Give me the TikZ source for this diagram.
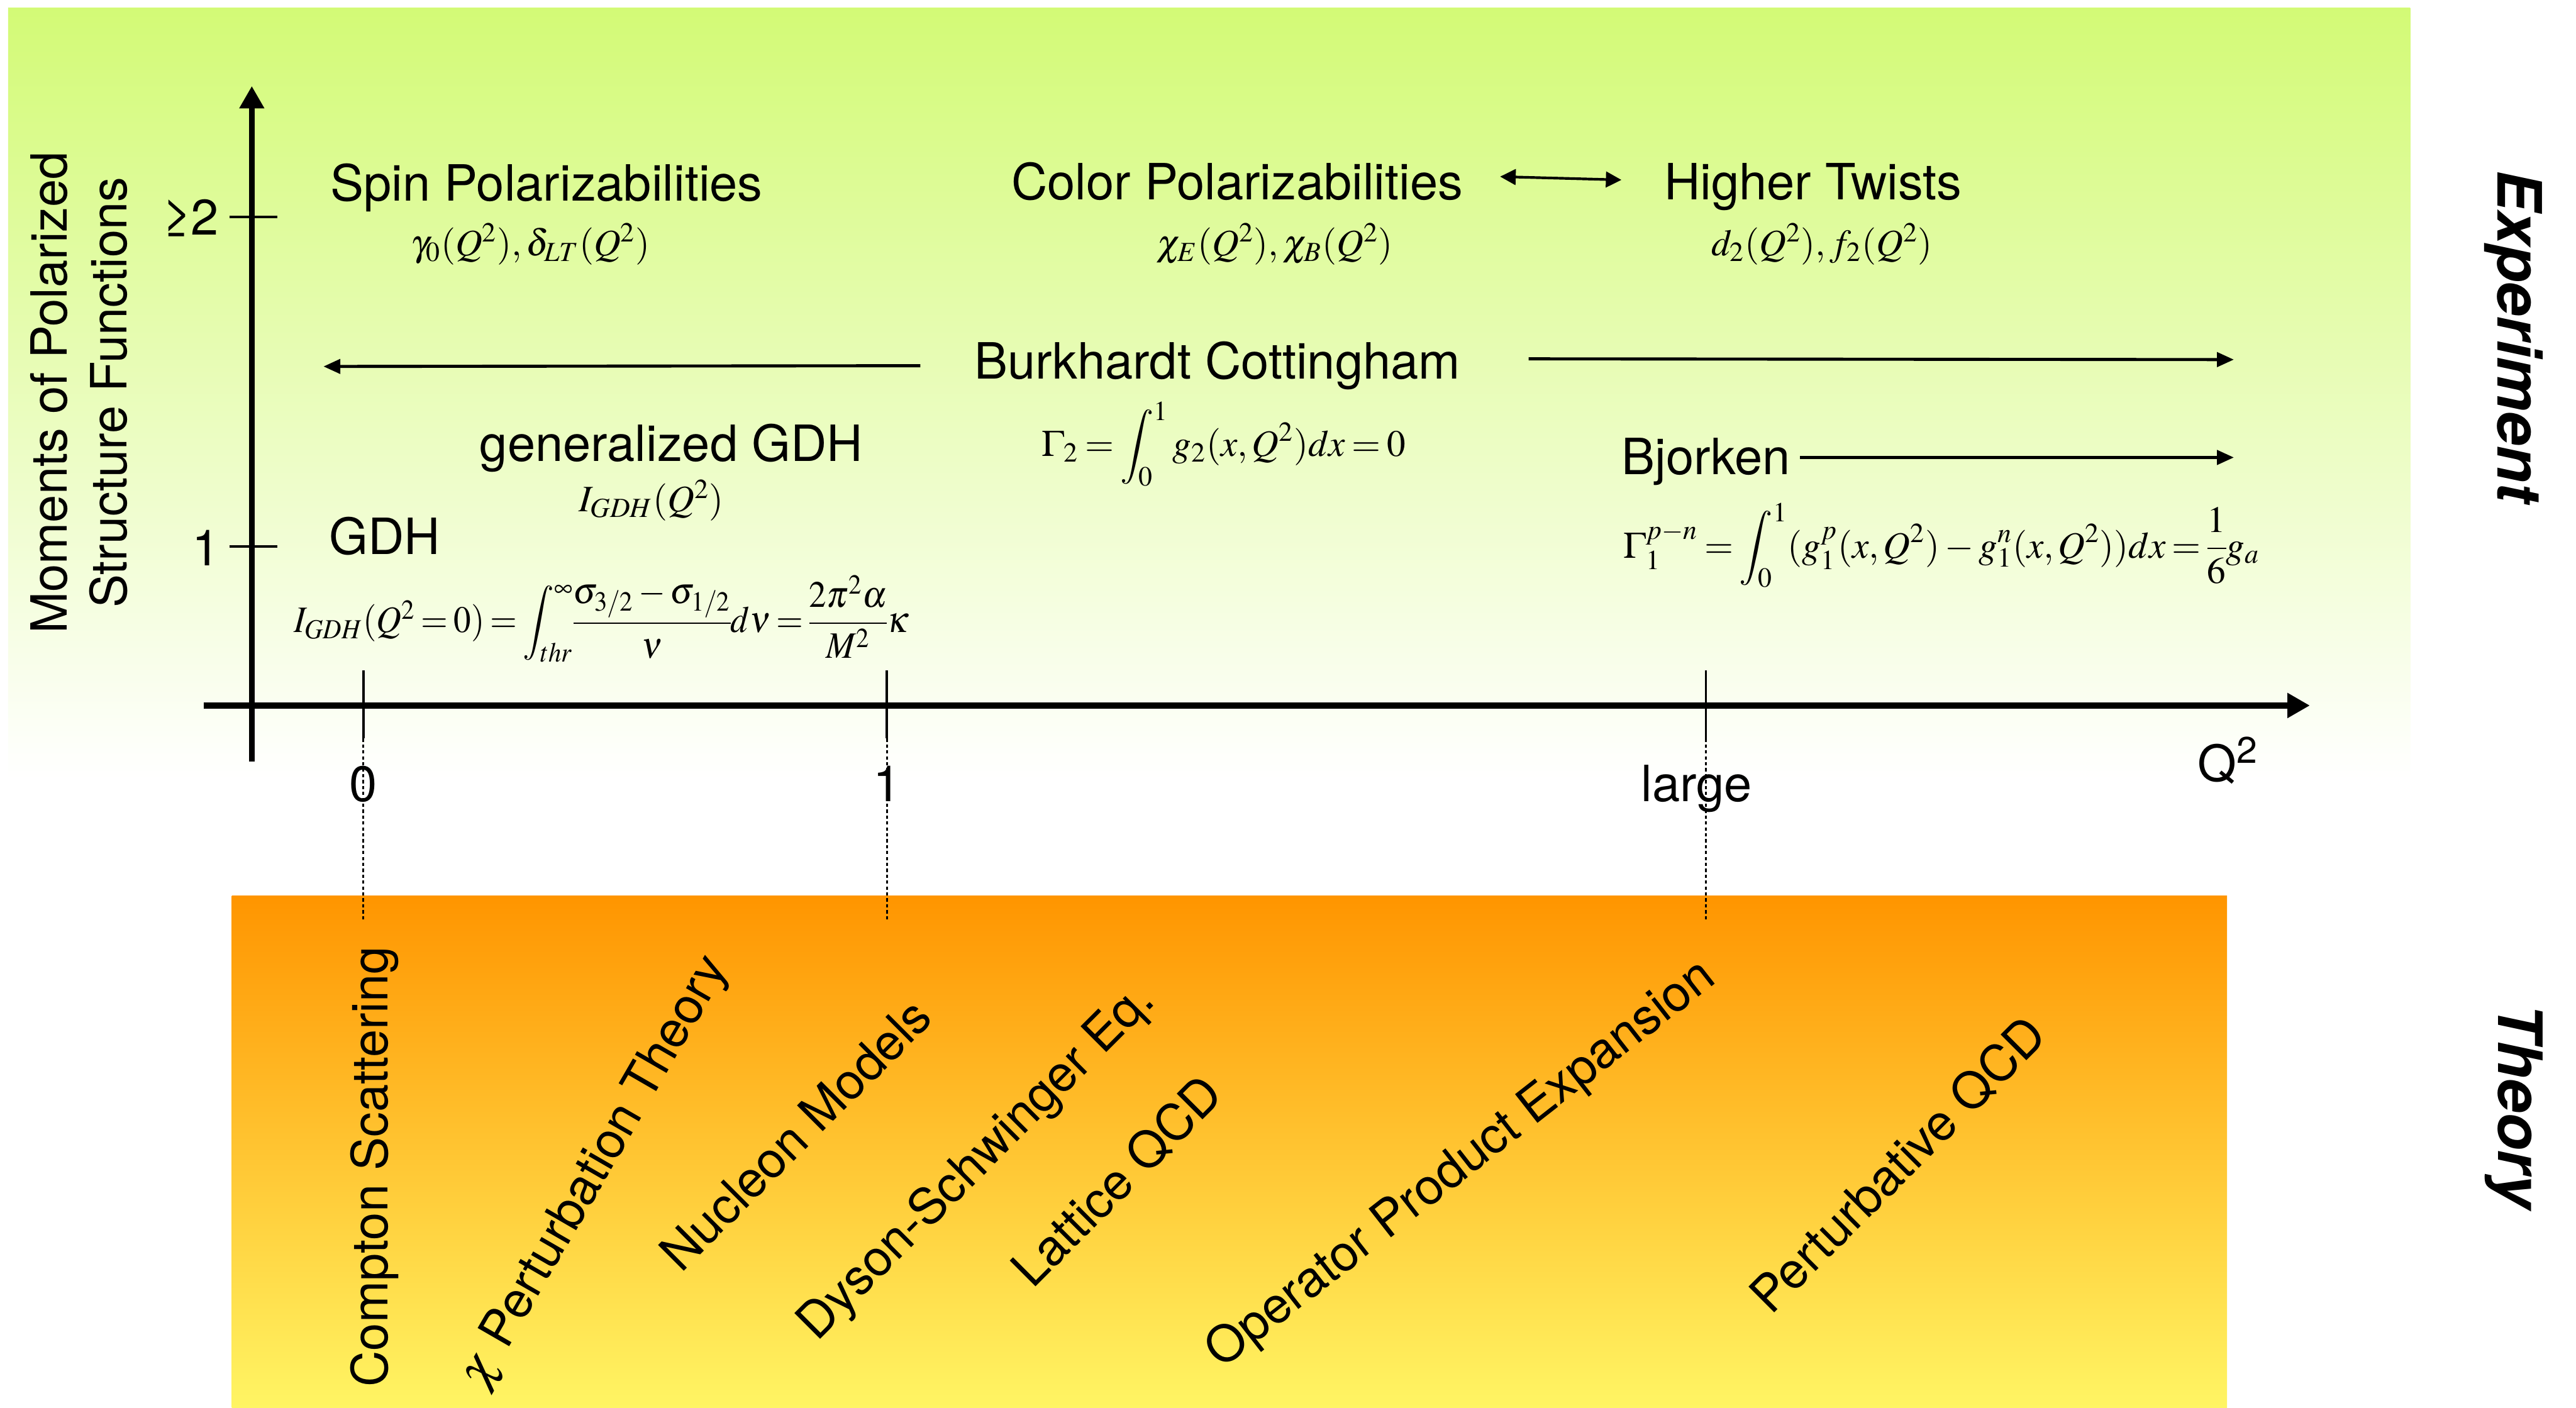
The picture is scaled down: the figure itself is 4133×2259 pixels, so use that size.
\documentclass[tikz,border=0pt]{standalone}
\usepackage{graphicx}
\usepackage{mathptmx}
\usepackage[no-math]{fontspec}
\setmainfont{TeX Gyre Heros}
\usetikzlibrary{arrows.meta,positioning}
\definecolor{expgreen}{RGB}{211,250,118}
\definecolor{thorange}{RGB}{255,149,0}
\definecolor{thyellow}{RGB}{255,245,100}
\tikzset{
  lbl/.style={font=\fontsize{22.8}{27.4}\selectfont, inner sep=0pt},
  eqn/.style={font=\fontsize{17}{20}\selectfont, inner sep=0pt,
    execute at begin node={\thickmuskip=3mu plus 2mu\medmuskip=2.5mu plus 1mu\nulldelimiterspace=0pt}},
  side/.style={font=\fontsize{27.9}{33}\selectfont\bfseries\itshape, inner sep=0pt},
  axis/.style={line width=2.8pt, -{Triangle[length=0.36cm,width=0.38cm]}},
  tick/.style={line width=1.1pt},
  guide/.style={line width=0.9pt, dash pattern=on 1.5pt off 1.2pt},
  arr/.style={line width=1.4pt, -{Triangle[length=0.27cm,width=0.23cm]}},
  biarr/.style={line width=1.2pt, {Triangle[length=0.25cm,width=0.25cm]}-{Triangle[length=0.25cm,width=0.25cm]}}
}

\begin{document}
\begin{tikzpicture}[x=0.01cm, y=-0.01cm]
  \useasboundingbox (0,0) rectangle (4133,2259);
  \shade[top color=expgreen, bottom color=white] (13,13) rectangle (3867,1250);
  \shade[top color=thorange, bottom color=thyellow] (372,1437) rectangle (3573,2259);

  % axes
  \coordinate (ybot) at (404,1222);
  \coordinate (ytop) at (404,138);
  \coordinate (xleft) at (327,1132);
  \coordinate (xright) at (3706,1132);
  \draw[axis] (ybot) -- (ytop);
  \draw[axis] (xleft) -- (xright);
  \draw[tick] (368,348) -- (445,348);
  \draw[tick] (368,877) -- (445,877);
  \node[lbl, anchor=east] (ytwo) at (352,350) {≥2};
  \node[lbl, anchor=east] (yone) at (354,879) {1};
  \node[lbl, rotate=90, align=center] (ylab) at (127,630) {Moments of Polarized\\Structure Functions};
  \foreach \qx/\lx/\qlab/\qname in {583/583/0/qzero, 1423/1423/1/qone, 2737/2722/large/qlarge}{
    \draw[tick] (\qx,1076) -- (\qx,1185);
    \draw[guide] (\qx,1185) -- (\qx,1476);
    \node[lbl, anchor=base] (\qname) at (\lx,1286) {\qlab};
  }
  \node[lbl, anchor=base] (qsq) at (3575,1254) {Q\textsuperscript{2}};

  % experiment side
  \node[lbl, anchor=base] (spin) at (877,322) {Spin Polarizabilities};
  \node[eqn, anchor=base] (spinq) at (851,410) {$\gamma_0(Q^2),\delta_{LT}(Q^2)$};
  \node[lbl, anchor=base] (color) at (1985,320) {Color Polarizabilities};
  \node[eqn, anchor=base] (colorq) at (2045,410) {$\chi_E(Q^2),\chi_B(Q^2)$};
  \node[lbl, anchor=base] (twist) at (2909,320) {Higher Twists};
  \node[eqn, anchor=base] (twistq) at (2923,410) {$d_2(Q^2),f_2(Q^2)$};
  \draw[biarr, shorten <=0.59cm, shorten >=0.68cm] ([yshift=0.09cm]color.east) -- ([yshift=0.09cm]twist.west);

  \node[lbl, anchor=base] (bc) at (1953,608) {Burkhardt Cottingham};
  \node[eqn, anchor=base] (bceq) at (1963,732) {$\Gamma_2=\displaystyle\int_0^1 g_2(x,Q^2)dx=0$};
  \coordinate (bcleft) at (519,588);
  \coordinate (bcright) at (3584,577);
  \draw[arr] ([xshift=-0.86cm]bc.west) -- (bcleft);
  \draw[arr] ([xshift=1.09cm, yshift=0.11cm]bc.east) -- (bcright);

  \node[lbl, anchor=base] (ggdh) at (1077,740) {generalized GDH};
  \node[eqn, anchor=base] (ggdhq) at (1045,821) {$I_{GDH}(Q^2)$};
  \node[lbl, anchor=base] (gdh) at (617,889) {GDH};
  \node[eqn, anchor=base] (gdheq) at (965,1015) {\scalebox{0.93}[1]{$I_{GDH}(Q^2=0)=\displaystyle\int_{thr}^{\infty}\!\frac{\sigma_{3/2}-\sigma_{1/2}}{\nu}d\nu=\frac{2\pi^2\alpha}{M^2}\kappa$}};

  \node[lbl, anchor=base] (bj) at (2737,761) {Bjorken};
  \node[eqn, anchor=base] (bjeq) at (3115,895) {$\Gamma_1^{p-n}=\displaystyle\int_0^1(g_1^p(x,Q^2)-g_1^n(x,Q^2))dx=\frac{1}{6}g_a$};
  \coordinate (bjright) at (3584,734);
  \draw[arr] ([xshift=0.15cm, yshift=0.065cm]bj.east) -- (bjright);

  % theory side
  \node[lbl, rotate=90] (compton) at (601,1872) {Compton Scattering};
  \node[lbl, rotate=60] (chipt) at (955,1882) {$\chi$ Perturbation Theory};
  \node[lbl, rotate=45] (nucleon) at (1276,1820) {Nucleon Models};
  \node[lbl, rotate=45] (dse) at (1568,1866) {Dyson-Schwinger Eq.};
  \node[lbl, rotate=45] (lqcd) at (1792,1895) {Lattice QCD};
  \node[lbl, rotate=38] (ope) at (2345,1870) {Operator Product Expansion};
  \node[lbl, rotate=45] (pqcd) at (3045,1869) {Perturbative QCD};

  \node[side, rotate=-90] (expt) at (4033,540) {Experiment};
  \node[side, rotate=-90] (theo) at (4033,1775) {Theory};
\end{tikzpicture}
\end{document}
